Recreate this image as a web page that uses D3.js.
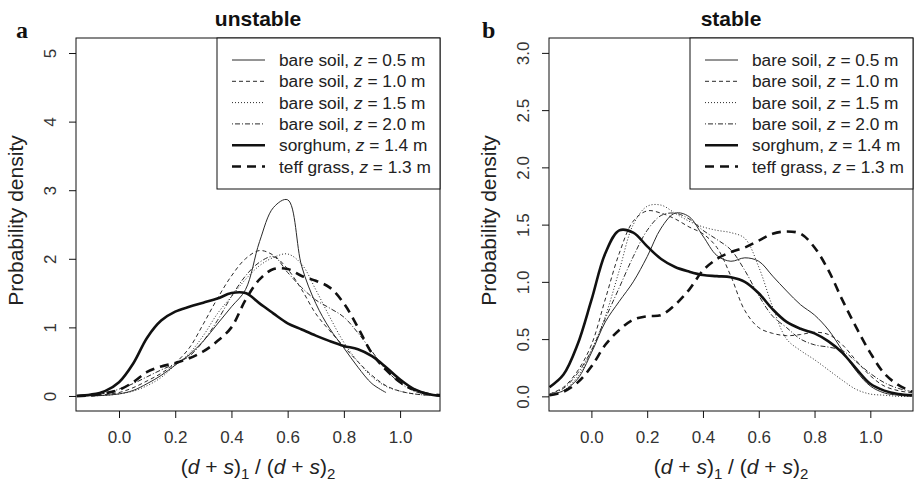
<!DOCTYPE html>
<html><head><meta charset="utf-8">
<script src="https://cdn.jsdelivr.net/npm/d3@7"></script>
<style>
body{margin:0;background:#fff}
svg{display:block}
text{font-family:"Liberation Sans",Arial,Helvetica,sans-serif;fill:#111}
</style>
</head><body>
<svg id="c" width="915" height="482"></svg>
<script>
// ---------- DATA ----------
const xGrid = [-0.15,-0.10,-0.05,0.00,0.05,0.10,0.15,0.20,0.25,0.30,0.35,0.40,0.45,0.50,0.55,0.60,0.65,0.70,0.75,0.80,0.85,0.90,0.95,1.00,1.05,1.10,1.15];

const seriesNames = ["bare soil", "bare soil", "bare soil", "bare soil", "sorghum", "teff grass"];
const seriesHeights = ["0.5", "1.0", "1.5", "2.0", "1.4", "1.3"];

// panel a: unstable
const unstableBare05  = [null,0.00,0.01,0.03,0.08,0.18,0.30,0.45,0.60,0.80,1.05,1.30,1.55,2.25,2.75,2.86,1.89,1.35,0.98,0.70,0.42,0.18,0.05,null,null,null,null];
const unstableBare10  = [null,0.00,0.02,0.05,0.12,0.22,0.33,0.48,0.70,1.05,1.42,1.75,2.00,2.12,2.05,1.85,1.55,1.20,0.95,0.72,0.50,0.30,0.15,0.07,0.03,0.01,null];
const unstableBare15  = [null,0.00,0.01,0.03,0.07,0.15,0.27,0.45,0.62,0.88,1.20,1.45,1.70,1.90,2.02,2.07,1.92,1.55,1.15,0.78,0.50,0.28,0.14,0.07,0.03,0.01,null];
const unstableBare20  = [0.00,0.01,0.04,0.10,0.18,0.28,0.38,0.47,0.58,0.80,1.10,1.45,1.75,1.95,2.03,1.80,1.58,1.40,1.28,1.15,0.92,0.65,0.38,0.19,0.07,0.02,0.00];
const unstableSorghum = [0.00,0.02,0.07,0.20,0.47,0.85,1.10,1.23,1.30,1.36,1.42,1.50,1.50,1.35,1.20,1.06,0.97,0.88,0.80,0.73,0.68,0.58,0.42,0.24,0.10,0.03,0.00];
const unstableTeff    = [0.00,0.01,0.04,0.09,0.20,0.35,0.43,0.48,0.55,0.65,0.80,1.00,1.40,1.70,1.85,1.85,1.75,1.68,1.58,1.35,1.00,0.62,0.38,0.20,0.09,0.03,0.01];

// panel b: stable
const stableBare05  = [0.01,0.05,0.15,0.38,0.65,0.83,1.00,1.22,1.47,1.60,1.57,1.40,1.23,1.18,1.21,1.18,1.05,0.92,0.80,0.71,0.58,0.40,0.22,0.09,0.03,0.01,0.00];
const stableBare10  = [0.02,0.08,0.22,0.45,0.85,1.25,1.53,1.62,1.60,1.55,1.48,1.42,1.30,1.05,0.75,0.60,0.55,0.53,0.54,0.56,0.54,0.45,0.31,0.18,0.09,0.05,0.03];
const stableBare15  = [0.01,0.05,0.17,0.40,0.70,1.10,1.50,1.66,1.67,1.60,1.53,1.48,1.45,1.43,1.38,1.13,0.78,0.50,0.40,0.32,0.23,0.14,0.06,0.02,0.01,0.00,0.00];
const stableBare20  = [0.02,0.07,0.20,0.40,0.68,0.95,1.22,1.45,1.58,1.60,1.55,1.45,1.37,1.28,1.10,0.88,0.70,0.60,0.50,0.45,0.43,0.40,0.30,0.20,0.12,0.07,0.04];
const stableSorghum = [0.08,0.19,0.45,0.84,1.25,1.45,1.43,1.31,1.20,1.13,1.09,1.06,1.05,1.04,1.00,0.90,0.76,0.65,0.59,0.55,0.48,0.38,0.24,0.11,0.05,0.02,0.01];
const stableTeff    = [0.01,0.04,0.12,0.26,0.45,0.58,0.67,0.70,0.71,0.80,0.93,1.10,1.20,1.26,1.30,1.36,1.42,1.44,1.42,1.30,1.10,0.84,0.60,0.38,0.20,0.10,0.04];

const xTicks = [0.0, 0.2, 0.4, 0.6, 0.8, 1.0];
const unstableYTicks = [0, 1, 2, 3, 4, 5];
const stableYTicks = [0.0, 0.5, 1.0, 1.5, 2.0, 2.5, 3.0];

// ---------- STYLE ----------
const lineStyles = [
  {w: 1,   dash: null,      c: "#2a2a2a"},
  {w: 1,   dash: "4,3",     c: "#2a2a2a"},
  {w: 1,   dash: "1,2",     c: "#2a2a2a"},
  {w: 1,   dash: "1,2,5,2", c: "#2a2a2a"},
  {w: 2.6, dash: null,      c: "#111"},
  {w: 2.6, dash: "9,6",     c: "#111"}
];

const svg = d3.select("#c");

function drawPanel(cfg) {
  const {left, right, top, bottom, xDom, yDom, series, yTicks, yFmt, title, letter, letterX, legendLeft, id} = cfg;
  const x = d3.scaleLinear().domain(xDom).range([left, right]);
  const y = d3.scaleLinear().domain(yDom).range([bottom, top]);
  const g = svg.append("g");

  g.append("clipPath").attr("id", "clip" + id)
    .append("rect").attr("x", left).attr("y", top).attr("width", right - left).attr("height", bottom - top);

  const line = d3.line()
    .defined(d => d[1] != null)
    .x(d => x(d[0])).y(d => y(d[1]))
    .curve(d3.curveCatmullRom.alpha(0.5));

  const curves = g.append("g").attr("clip-path", `url(#clip${id})`);
  series.forEach((vals, i) => {
    const pts = xGrid.map((xv, j) => [xv, vals[j]]);
    curves.append("path")
      .attr("d", line(pts))
      .attr("fill", "none")
      .attr("stroke", lineStyles[i].c)
      .attr("stroke-width", lineStyles[i].w)
      .attr("stroke-dasharray", lineStyles[i].dash)
      .attr("stroke-linejoin", "round");
  });

  // axes
  const xAxis = d3.axisBottom(x).tickValues(xTicks).tickSize(7).tickFormat(d3.format(".1f"));
  const gx = g.append("g").attr("transform", `translate(0,${bottom})`).call(xAxis);
  gx.select(".domain").remove();
  gx.selectAll("line").attr("stroke", "#111");
  gx.selectAll("text").attr("y", 32).attr("dy", null)
    .style("font-size", "17px").style("fill", "#333");

  const yAxis = d3.axisLeft(y).tickValues(yTicks).tickSize(7).tickFormat(yFmt);
  const gy = g.append("g").attr("transform", `translate(${left},0)`).call(yAxis);
  gy.select(".domain").remove();
  gy.selectAll("line").attr("stroke", "#111");
  gy.selectAll("text").attr("x", null).attr("dy", null)
    .attr("text-anchor", "middle")
    .attr("transform", "translate(-20,0) rotate(-90)")
    .style("font-size", "17px").style("fill", "#333");

  // box
  g.append("rect").attr("x", left).attr("y", top)
    .attr("width", right - left).attr("height", bottom - top)
    .attr("fill", "none").attr("stroke", "#111").attr("stroke-width", 1);

  // title
  g.append("text").attr("x", (left + right) / 2).attr("y", 26)
    .attr("text-anchor", "middle").style("font-size", "21px").style("font-weight", "bold")
    .text(title);
  g.append("text").attr("x", letterX).attr("y", 38)
    .style("font-family", "'Liberation Serif','Times New Roman',serif")
    .style("font-size", "24px").style("font-weight", "bold").text(letter);

  // y label
  g.append("text")
    .attr("transform", `translate(${left - 53},${(top + bottom) / 2 - 4}) rotate(-90)`)
    .attr("text-anchor", "middle").style("font-size", "21px").style("fill", "#222")
    .text("Probability density");

  // x label
  const xl = g.append("text").attr("x", (left + right) / 2).attr("y", 474)
    .attr("text-anchor", "middle").style("font-size", "21px").style("fill", "#222");
  xl.append("tspan").text("(");
  xl.append("tspan").style("font-style", "italic").text("d");
  xl.append("tspan").text(" + ");
  xl.append("tspan").style("font-style", "italic").text("s");
  xl.append("tspan").text(")");
  xl.append("tspan").attr("dy", 5).style("font-size", "15px").text("1");
  xl.append("tspan").attr("dy", -5).text(" / (");
  xl.append("tspan").style("font-style", "italic").text("d");
  xl.append("tspan").text(" + ");
  xl.append("tspan").style("font-style", "italic").text("s");
  xl.append("tspan").text(")");
  xl.append("tspan").attr("dy", 5).style("font-size", "15px").text("2");

  // legend
  const lg = g.append("g");
  lg.append("rect").attr("x", legendLeft).attr("y", top)
    .attr("width", right - legendLeft).attr("height", 151)
    .attr("fill", "#fff").attr("stroke", "#111").attr("stroke-width", 1);
  seriesNames.forEach((name, i) => {
    const yy = top + 22 + i * 21.3;
    lg.append("line").attr("x1", legendLeft + 15).attr("x2", legendLeft + 48)
      .attr("y1", yy).attr("y2", yy)
      .attr("stroke", lineStyles[i].c).attr("stroke-width", lineStyles[i].w)
      .attr("stroke-dasharray", lineStyles[i].dash);
    const t = lg.append("text").attr("x", legendLeft + 62).attr("y", yy + 6)
      .style("font-size", "17.3px").style("fill", "#222");
    t.append("tspan").text(name + ", ");
    t.append("tspan").style("font-style", "italic").text("z");
    t.append("tspan").text(" = " + seriesHeights[i] + " m");
  });
}

drawPanel({
  id: "a", left: 76, right: 440, top: 38, bottom: 411,
  xDom: [-0.153, 1.142], yDom: [-0.219, 5.219],
  series: [unstableBare05, unstableBare10, unstableBare15, unstableBare20, unstableSorghum, unstableTeff],
  yTicks: unstableYTicks, yFmt: d3.format("d"),
  title: "unstable", letter: "a", letterX: 16, legendLeft: 217
});

drawPanel({
  id: "b", left: 549, right: 913, top: 38, bottom: 411,
  xDom: [-0.152, 1.153], yDom: [-0.128, 3.13],
  series: [stableBare05, stableBare10, stableBare15, stableBare20, stableSorghum, stableTeff],
  yTicks: stableYTicks, yFmt: d3.format(".1f"),
  title: "stable", letter: "b", letterX: 482, legendLeft: 690
});
</script>
</body></html>
